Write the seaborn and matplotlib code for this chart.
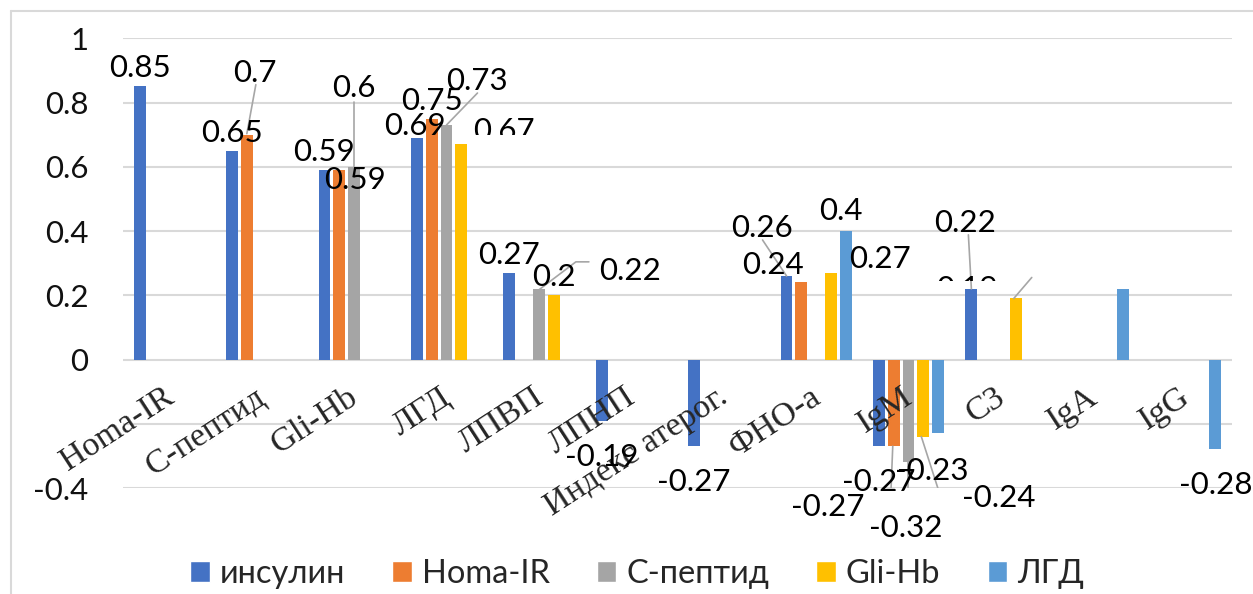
import numpy as np
import pandas as pd
import matplotlib

matplotlib.use("Agg")
import matplotlib.pyplot as plt
import seaborn as sns
from matplotlib.lines import Line2D
from matplotlib.patches import Patch
from matplotlib.transforms import Bbox

nan = np.nan

categories = ["Homa-IR", "С-пептид", "Gli-Hb", "ЛГД", "ЛПВП", "ЛПНП",
              "Индекс атерог.", "ФНО-а", "IgM", "С3", "IgA", "IgG"]
series_names = ["инсулин", "Homa-IR", "С-пептид", "Gli-Hb", "ЛГД"]

insulin = [0.85, 0.65, 0.59, 0.69, 0.27, -0.19, -0.27, 0.26, -0.27, 0.22, nan, nan]
homa_ir = [nan, 0.70, 0.59, 0.75, nan, nan, nan, 0.24, -0.27, nan, nan, nan]
c_peptide = [nan, nan, 0.60, 0.73, 0.22, nan, nan, nan, -0.32, nan, nan, nan]
gli_hb = [nan, nan, nan, 0.67, 0.20, nan, nan, 0.27, -0.24, 0.19, nan, nan]
lgd = [nan, nan, nan, nan, nan, nan, nan, 0.40, -0.23, nan, 0.22, -0.28]

y_ticks = [-0.4, -0.2, 0, 0.2, 0.4, 0.6, 0.8, 1.0]
y_tick_labels = ["-0.4", "", "0", "0.2", "0.4", "0.6", "0.8", "1"]

colors = ["#4472C4", "#ED7D31", "#A5A5A5", "#FFC000", "#5B9BD5"]

# label tweaks: pixel offsets (x right, y down) of the text baseline centre
# from the end of the bar, optional leader line and clipping
LABEL_TWEAKS = {
    ("Homa-IR", "С-пептид"): dict(off=(8, -53), leader=[(9, -50), (0, -1)]),
    ("Homa-IR", "Gli-Hb"): dict(off=(16, 19)),
    ("С-пептид", "Gli-Hb"): dict(off=(0, -70), leader=[(0, -65), (0, 0)]),
    ("инсулин", "ЛГД"): dict(off=(-2, -3)),
    ("С-пептид", "ЛГД"): dict(off=(30, -35), leader=[(31, -32), (0, 0)]),
    ("Gli-Hb", "ЛГД"): dict(off=(43, -4), clip=-9),
    ("С-пептид", "ЛПВП"): dict(off=(91, -9), leader=[(50, -27), (37, -27), (0, 1)]),
    ("инсулин", "ФНО-а"): dict(off=(-25, -39), leader=[(-24, -36), (0, 0)]),
    ("Homa-IR", "ФНО-а"): dict(off=(-28, -8)),
    ("Gli-Hb", "ФНО-а"): dict(off=(49, -5)),
    ("ЛГД", "ФНО-а"): dict(off=(-5, -11)),
    ("Homa-IR", "IgM"): dict(off=(-66, 70), leader=[(-1, 0), (-3, 50), (-16, 50)], box=True),
    ("С-пептид", "IgM"): dict(off=(-3, 75), leader=[(-1, 0), (-1, 39)]),
    ("Gli-Hb", "IgM"): dict(off=(75, 70), leader=[(-2, 0), (15, 53), (27, 53)]),
    ("ЛГД", "IgM"): dict(off=(-6, 47)),
    ("инсулин", "С3"): dict(off=(-6, -57), leader=[(-3, -54), (0, 0)]),
    ("Gli-Hb", "С3"): dict(off=(-49, 0), leader=[(-2, 0), (16, -21)], clip=-17),
}
NO_LABEL = {("ЛГД", "IgA")}

W, H = 1253, 594

rows = []
for name, vals in zip(series_names, [insulin, homa_ir, c_peptide, gli_hb, lgd]):
    for cat, v in zip(categories, vals):
        if not np.isnan(v):
            rows.append({"category": cat, "series": name, "value": v})
df = pd.DataFrame(rows)

sns.set_style("white")
plt.rcParams["font.family"] = ["Lato", "DejaVu Sans"]
plt.rcParams["axes.unicode_minus"] = False

fig = plt.figure(figsize=(W / 100, H / 100), dpi=100)
ax = fig.add_axes([123 / W, 1 - 488 / H, (1232 - 123) / W, (488 - 38.3) / H])

sns.barplot(data=df, x="category", y="value", hue="series", order=categories,
            hue_order=series_names, palette=colors, saturation=1, width=0.8,
            gap=0.2, errorbar=None, legend=False, linewidth=0, ax=ax)

ax.set_xlim(-0.5, len(categories) - 0.5)
ax.set_ylim(-0.4, 1.0)
ax.set_xticks([])
ax.set_xlabel("")
ax.set_ylabel("")
ax.set_yticks(y_ticks, y_tick_labels)
ax.tick_params(axis="y", length=0, pad=25, labelsize=22.5, labelcolor="#111111")
ax.yaxis.grid(True, color="#d9d9d9", linewidth=1.5)
ax.set_axisbelow(True)
for s in ax.spines.values():
    s.set_visible(False)

to_disp = ax.transData.transform
to_data = ax.transData.inverted().transform


def shifted(x, y, dx, dy):
    px, py = to_disp((x, y))
    return to_data((px + dx, py - dy))


# data labels
slot = 0.8 / len(series_names)
for bar in ax.patches:
    h = bar.get_height()
    if bar.get_width() == 0 or np.isnan(h):
        continue
    xc = bar.get_x() + bar.get_width() / 2
    ci = int(round(xc))
    si = int(round((xc - ci) / slot)) + 2
    key = (series_names[si], categories[ci])
    if key in NO_LABEL:
        continue
    tw = LABEL_TWEAKS.get(key, {})
    default = (0, -9) if h >= 0 else (0, 45)
    dx, dy = tw.get("off", default)
    tx, ty = shifted(xc, h, dx, dy)
    t = ax.text(tx, ty, f"{h:g}", ha="center", va="baseline", fontsize=22.5,
                color="black", zorder=5)
    if tw.get("box"):
        t.set_bbox(dict(facecolor="white", edgecolor="none", pad=1))
    if "clip" in tw:
        ey = to_disp((xc, h))[1]
        t.set_clip_box(Bbox.from_extents(0, ey - tw["clip"], W, H))
        t.set_clip_on(True)
    if "leader" in tw:
        pts = np.array([shifted(xc, h, lx, ly) for lx, ly in tw["leader"]])
        ax.plot(pts[:, 0], pts[:, 1], color="#a6a6a6", linewidth=1.2, zorder=4)

# category labels rotated along the zero line
for i, cat in enumerate(categories):
    lx, ly = shifted(i, 0, 6, 42)
    ax.text(lx, ly, cat, rotation=33, rotation_mode="anchor", ha="right",
            va="baseline", fontsize=24.5, family=["Liberation Serif", "DejaVu Serif"],
            color="#262626", zorder=3)

handles = [Patch(facecolor=c, label=n) for c, n in zip(colors, series_names)]
fig.legend(handles=handles, loc="center", bbox_to_anchor=(637 / W, 1 - 574 / H),
           ncol=5, frameon=False, fontsize=23.5, handlelength=0.6, handleheight=0.6,
           handletextpad=0.3, columnspacing=1.45)

# chart area border (left and top edges visible)
fig.add_artist(Line2D([11 / W, 11 / W], [0, 1 - 11 / H], transform=fig.transFigure,
                      color="#d9d9d9", linewidth=1.5))
fig.add_artist(Line2D([11 / W, 1], [1 - 11 / H, 1 - 11 / H], transform=fig.transFigure,
                      color="#d9d9d9", linewidth=1.5))

fig.savefig("out.png", dpi=100)
